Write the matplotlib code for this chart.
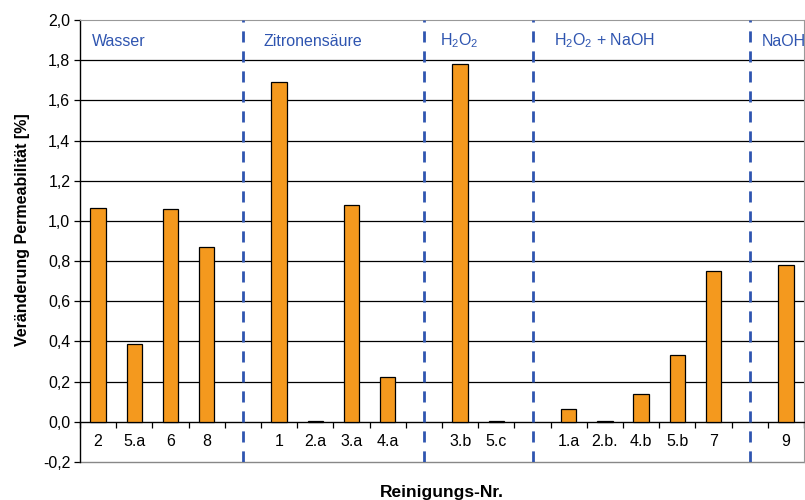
import matplotlib.pyplot as plt
import numpy as np

plt.rcParams['font.family'] = ['Liberation Sans', 'DejaVu Sans']

# Reinigungs-Nr. (leere Einträge = Trennstellen zwischen den Gruppen)
kategorien = ['2', '5.a', '6', '8', '', '1', '2.a', '3.a', '4.a', '', '3.b', '5.c', '',
              '1.a', '2.b.', '4.b', '5.b', '7', '', '9']
werte = [1.065, 0.385, 1.06, 0.87, np.nan, 1.69, 0.006, 1.08, 0.225, np.nan, 1.78, 0.006, np.nan,
         0.065, 0.002, 0.14, 0.335, 0.75, np.nan, 0.78]
gruppen = ['Wasser', 'Zitronensäure', r'$\mathregular{H_2O_2}$', r'$\mathregular{H_2O_2}$ + NaOH', 'NaOH']
trenner = [4, 9, 12, 18]

blau = '#2F55B0'
orange = '#F4991E'

fig = plt.figure(figsize=(8.05, 5.0), dpi=100)
ax = fig.add_axes([80/805, 38/500, 724/805, 442/500])

x = np.arange(len(kategorien))
ax.bar(x, werte, width=0.42, color=orange, edgecolor='black', linewidth=0.9, zorder=3)

ax.set_xlim(-0.5, len(kategorien) - 0.5)
ax.set_ylim(-0.2, 2.0)

# Gitterlinien
for yv in np.arange(0.2, 1.81, 0.2):
    ax.axhline(yv, color='black', linewidth=0.9, zorder=1)

# Achsen
yt = np.round(np.arange(-0.2, 2.01, 0.2), 1)
ax.set_yticks(yt)
ax.set_yticklabels([('%.1f' % v).replace('.', ',').replace('-0,0', '0,0') for v in yt], fontsize=11.5)
ax.spines['bottom'].set_position(('data', 0))
ax.spines['bottom'].set_linewidth(1.0)
ax.spines['left'].set_linewidth(1.0)
for s in ['top', 'right']:
    ax.spines[s].set_color('#999999')
ax.axhline(-0.2, color='#888888', linewidth=1.0, clip_on=False, zorder=2)
ax.set_xticks(np.arange(-0.5, len(kategorien), 1.0))
ax.set_xticklabels([])
ax.tick_params(axis='x', direction='out', length=4, width=0.9)
ax.tick_params(axis='y', direction='out', length=4, width=0.9, pad=3)

for xi, k in zip(x, kategorien):
    ax.text(xi, -0.1, k, ha='center', va='center', fontsize=11.5)

# Gruppentrenner und -namen
for t in trenner:
    ax.axvline(t, color=blau, linewidth=2, linestyle=(0, (4, 3.2)), zorder=4)
gx = [-0.17, 4.58, 9.44, 12.59, 18.34]
for g, xp in zip(gruppen, gx):
    ax.text(xp, 1.895, g, ha='left', va='center', fontsize=11.5, color=blau, clip_on=False)

fig.text(23/805, 1 - 230/500, 'Veränderung Permeabilität [%]', rotation=90, ha='center',
         va='center', fontsize=11.5, fontweight='bold')
fig.text(442/805, 1 - 492/500, 'Reinigungs-Nr.', ha='center', va='center',
         fontsize=12.5, fontweight='bold')

fig.savefig('out.png', dpi=100)
